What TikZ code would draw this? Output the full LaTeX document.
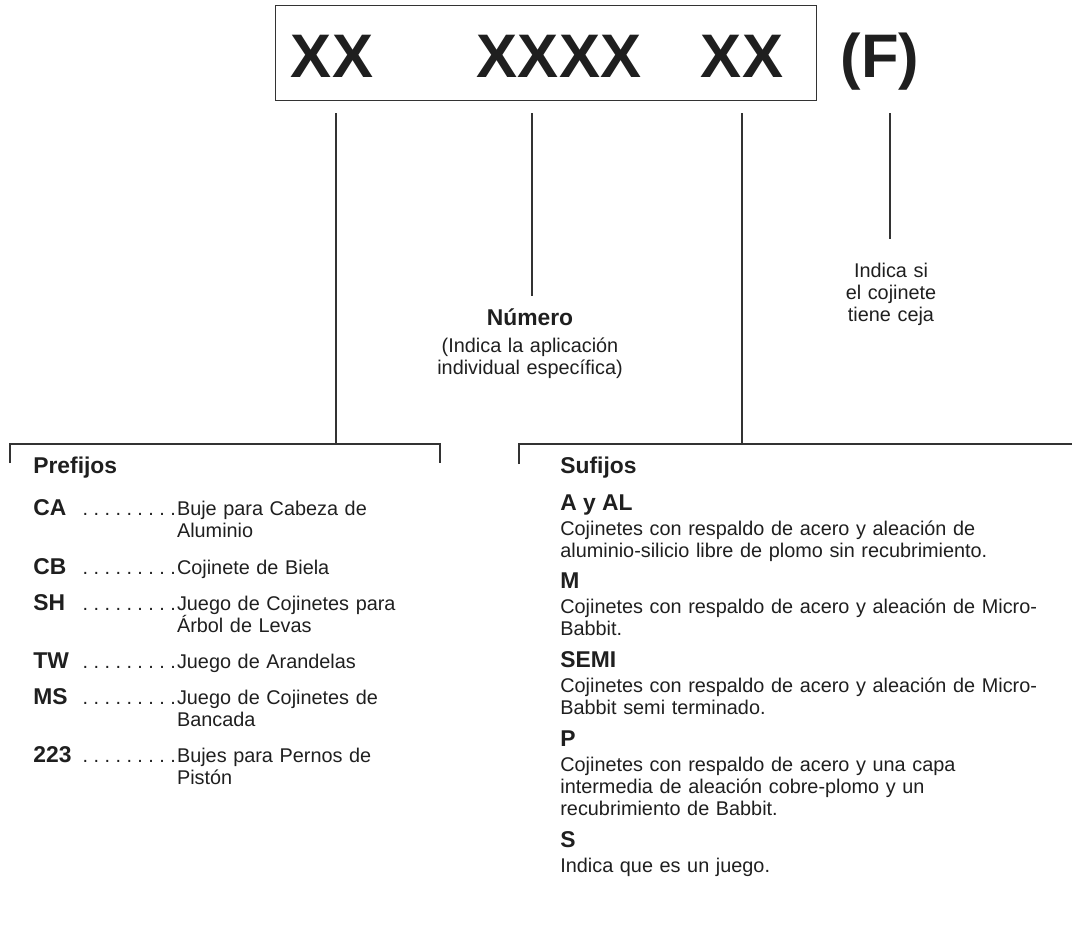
\documentclass[tikz,border=0pt]{standalone}
\usepackage{fontspec}
\setmainfont{Liberation Sans}
\usetikzlibrary{positioning}

\newcommand\leaderdots{\leaders\hbox to 6.24pt{\hss.}\hfill}
\newcommand\prefcode[1]{\hbox to 2.86cm{{\fontsize{13}{15}\selectfont\bfseries #1}\hskip 2pt\leaderdots}}

\begin{document}
\begin{tikzpicture}[
    x=0.02cm,y=0.02cm,
    rule/.style={draw=black!80, line width=0.6pt},
    bigcode/.style={font=\fontsize{35}{40}\selectfont\bfseries, text=black!88,
      anchor=base, inner sep=0pt},
    head/.style={font=\fontsize{13}{15}\selectfont\bfseries, text=black!88,
      anchor=base west, inner sep=0pt},
    code/.style={font=\fontsize{11.3}{12.6}\selectfont, text=black!88,
      anchor=base west, inner sep=0pt},
    desc/.style={font=\fontsize{11.3}{12.6}\selectfont, text=black!88,
      anchor=base west, inner sep=0pt, text width=6cm, align=left},
    body/.style={desc, text width=10cm},
    note/.style={font=\fontsize{11.3}{12.6}\selectfont, text=black!88,
      anchor=base, inner sep=0pt, text width=5cm, align=center}
  ]
    \useasboundingbox (0,0) rectangle (1072,-941);

    % code box
    \node[rule, minimum width=10.84cm, minimum height=1.9cm, inner sep=0pt] (codebox) at (546,-53) {};
    \node[bigcode] (pre) at (332,-77) {XX};
    \node[bigcode] (num) at (559,-77) {XXXX};
    \node[bigcode] (suf) at (742,-77) {XX};
    \node[bigcode] (flag) at (880,-77) {(F)};

    \coordinate (pretop) at (336,-113);
    \coordinate (prebar) at (336,-444);
    \coordinate (numtop) at (532,-113);
    \coordinate (numend) at (532,-296);
    \coordinate (suftop) at (742,-113);
    \coordinate (sufbar) at (742,-444);
    \coordinate (flagtop) at (890,-113);
    \coordinate (flagend) at (890,-239);

    \draw[rule] (pretop) -- (prebar);
    \draw[rule] (numtop) -- (numend);
    \draw[rule] (suftop) -- (sufbar);
    \draw[rule] (flagtop) -- (flagend);

    % brackets
    \coordinate (lbracka) at (10,-463);
    \coordinate (lbrackb) at (440,-463);
    \coordinate (rbracka) at (519,-464);
    \coordinate (rbrackb) at (1072,-444);
    \draw[rule] (lbracka) |- (prebar) -| (lbrackb);
    \draw[rule] (rbracka) |- (rbrackb);

    % middle labels
    \node[head, anchor=base] (numtitle) at (530,-325) {Número};
    \node[note, font=\fontsize{11.3}{13}\selectfont] (numtext) at (530,-352)
      {(Indica la aplicación\\individual específica)};
    \node[note] (flagtext) at (891,-277) {Indica si\\el cojinete\\tiene ceja};

    % prefixes
    \node[head] (prefijos) at (33,-473) {Prefijos};
    \node[code] (ca) at (33,-515) {\prefcode{CA}};
    \node[desc] (cadesc) at (ca.base east) {Buje para Cabeza de\\Aluminio};
    \node[code] (cb) at (33,-574) {\prefcode{CB}};
    \node[desc] (cbdesc) at (cb.base east) {Cojinete de Biela};
    \node[code] (sh) at (33,-610) {\prefcode{SH}};
    \node[desc] (shdesc) at (sh.base east) {Juego de Cojinetes para\\Árbol de Levas};
    \node[code] (tw) at (33,-668) {\prefcode{TW}};
    \node[desc] (twdesc) at (tw.base east) {Juego de Arandelas};
    \node[code] (ms) at (33,-704) {\prefcode{MS}};
    \node[desc] (msdesc) at (ms.base east) {Juego de Cojinetes de\\Bancada};
    \node[code] (pin) at (33,-762) {\prefcode{223}};
    \node[desc] (pindesc) at (pin.base east) {Bujes para Pernos de\\Pistón};

    % suffixes
    \node[head] (sufijos) at (560,-473) {Sufijos};
    \node[head] (ayal) at (560,-510) {A y AL};
    \node[body] (ayaltext) at (560,-535)
      {Cojinetes con respaldo de acero y aleación de\\aluminio-silicio libre de plomo sin recubrimiento.};
    \node[head] (m) at (560,-588) {M};
    \node[body] (mtext) at (560,-613)
      {Cojinetes con respaldo de acero y aleación de Micro-\\Babbit.};
    \node[head] (semi) at (560,-667) {SEMI};
    \node[body] (semitext) at (560,-692)
      {Cojinetes con respaldo de acero y aleación de Micro-\\Babbit semi terminado.};
    \node[head] (p) at (560,-746) {P};
    \node[body] (ptext) at (560,-771)
      {Cojinetes con respaldo de acero y una capa\\intermedia de aleación cobre-plomo y un\\recubrimiento de Babbit.};
    \node[head] (s) at (560,-847) {S};
    \node[body] (stext) at (560,-872) {Indica que es un juego.};
\end{tikzpicture}
\end{document}
